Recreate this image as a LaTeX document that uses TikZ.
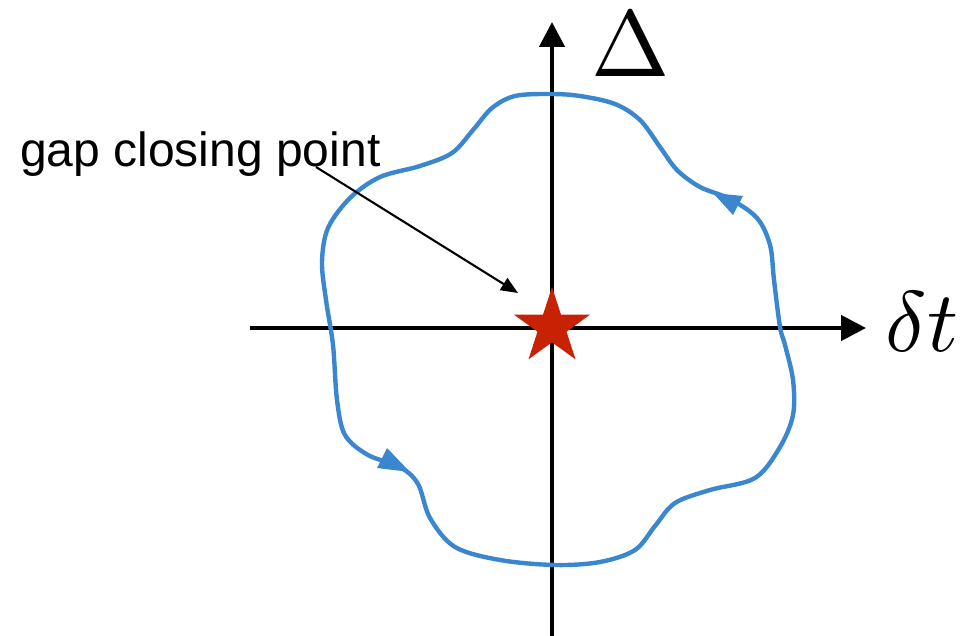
\documentclass[tikz,border=0pt]{standalone}
\usepackage{fontspec}
\newfontfamily\labelsans{Liberation Sans}
\usetikzlibrary{arrows.meta,shapes.geometric}
\definecolor{loopblue}{RGB}{58,135,208}
\definecolor{starred}{RGB}{200,34,4}
\tikzset{
  axisline/.style={line width=4.6pt,-{Triangle[width=25pt,length=25pt]}},
  loopline/.style={draw=loopblue,line width=4.4pt},
  looptip/.style={fill=loopblue},
  pointer/.style={line width=2.1pt,-{Triangle[width=14pt,length=17pt]}},
  biglabel/.style={inner sep=0pt,anchor=base},
}
\begin{document}
\begin{tikzpicture}[x=1pt,y=-1pt]
\useasboundingbox (0,0) rectangle (965,636);
% axes
\coordinate (xs) at (250,328);
\coordinate (xe) at (866,328);
\coordinate (ys) at (552,636);
\coordinate (ye) at (552,22);
\draw[axisline] (xs) -- (xe);
\draw[axisline] (ys) -- (ye);
% loop
\draw[loopline] plot[smooth cycle,tension=0.55] coordinates {
 (780,327) (774,280) (770,245) (757,218) (730,199) (700,187) (677,170)
 (660,147) (640,120) (615,104) (580,96) (550,94) (515,96) (492,108)
 (473,130) (452,153) (420,166) (380,177) (350,198) (328,228) (322,262)
 (326,300) (333,345) (337,400) (345,435) (368,455) (400,467) (418,484)
 (430,518) (455,547) (500,560) (555,565) (600,562) (635,550) (655,526)
 (675,503) (710,490) (755,478) (780,447) (793,415) (793,380) (785,345)};
\fill[looptip] (713,193) -- (743,196) -- (733,215) -- cycle;
\fill[looptip] (410,472) -- (387,448) -- (377,468) -- cycle;
% star
\node[star,star points=5,star point ratio=2.618,minimum size=80pt,inner sep=0pt,fill=starred] (gap) at (552,327) {};
% labels
\node[biglabel,scale=9.4] (delta) at (631,77) {$\Delta$};
\node[biglabel,anchor=base west,scale=8.6] (dt) at (884,351) {$\delta t$};
\node[inner sep=0pt,anchor=base west] (txt) at (20,167) {\labelsans\fontsize{48}{48}\selectfont gap closing point};
\coordinate (ptr) at (518,293);
\draw[pointer] (316,167) -- (ptr);
\end{tikzpicture}
\end{document}
